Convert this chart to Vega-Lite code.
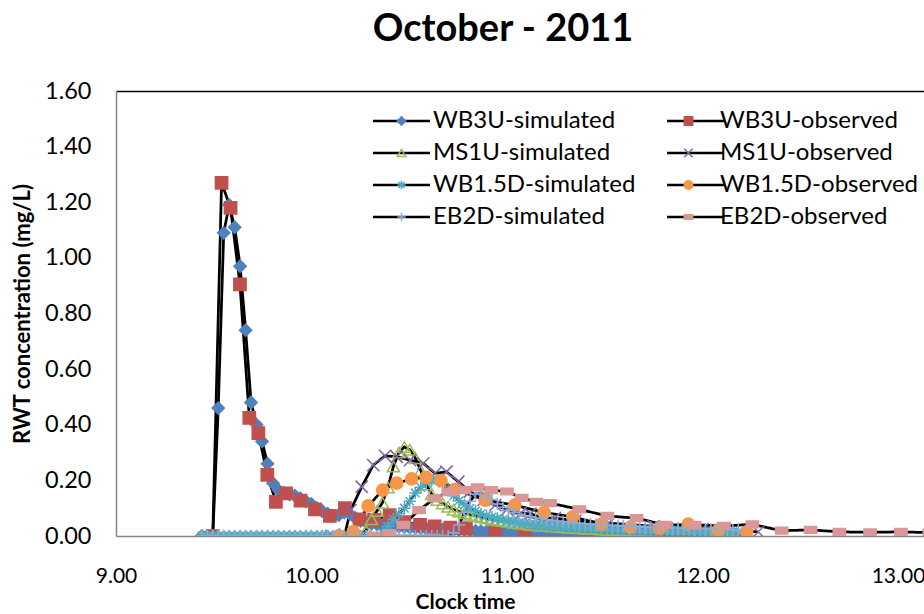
{
"$schema":"https://vega.github.io/schema/vega-lite/v6.json",
"width":808,"height":445,
"autosize":{"type":"none"},
"padding":{"left":116,"top":91,"right":0,"bottom":78},
"background":"white",
"title":{"text":"October - 2011","fontSize":38,"font":"Lato","fontWeight":"bold","color":"black","anchor":"middle","frame":"group","dx":-17,"offset":0,"baseline":"alphabetic"},
"config":{"view":{"stroke":null},"font":"Lato","axis":{"grid":false}},
"data":{"values":[
{"series":"WB3U-simulated","time":9.439,"conc":0},{"series":"WB3U-simulated","time":9.467,"conc":0},{"series":"WB3U-simulated","time":9.495,"conc":0},{"series":"WB3U-simulated","time":9.523,"conc":0.46},{"series":"WB3U-simulated","time":9.551,"conc":1.09},{"series":"WB3U-simulated","time":9.579,"conc":1.19},{"series":"WB3U-simulated","time":9.607,"conc":1.11},{"series":"WB3U-simulated","time":9.635,"conc":0.97},{"series":"WB3U-simulated","time":9.663,"conc":0.74},{"series":"WB3U-simulated","time":9.691,"conc":0.48},{"series":"WB3U-simulated","time":9.719,"conc":0.40},{"series":"WB3U-simulated","time":9.747,"conc":0.34},{"series":"WB3U-simulated","time":9.775,"conc":0.26},{"series":"WB3U-simulated","time":9.803,"conc":0.19},{"series":"WB3U-simulated","time":9.831,"conc":0.165},{"series":"WB3U-simulated","time":9.859,"conc":0.155},{"series":"WB3U-simulated","time":9.887,"conc":0.15},{"series":"WB3U-simulated","time":9.915,"conc":0.145},{"series":"WB3U-simulated","time":9.943,"conc":0.135},{"series":"WB3U-simulated","time":9.971,"conc":0.125},{"series":"WB3U-simulated","time":9.999,"conc":0.115},{"series":"WB3U-simulated","time":10.027,"conc":0.1},{"series":"WB3U-simulated","time":10.055,"conc":0.09},{"series":"WB3U-simulated","time":10.083,"conc":0.08},{"series":"WB3U-simulated","time":10.111,"conc":0.072},{"series":"WB3U-simulated","time":10.139,"conc":0.075},{"series":"WB3U-simulated","time":10.167,"conc":0.085},{"series":"WB3U-simulated","time":10.195,"conc":0.08},{"series":"WB3U-simulated","time":10.223,"conc":0.065},{"series":"WB3U-simulated","time":10.251,"conc":0.055},{"series":"WB3U-simulated","time":10.279,"conc":0.05},{"series":"WB3U-simulated","time":10.307,"conc":0.045},{"series":"WB3U-simulated","time":10.335,"conc":0.042},{"series":"WB3U-simulated","time":10.363,"conc":0.04},{"series":"WB3U-simulated","time":10.391,"conc":0.038},{"series":"WB3U-simulated","time":10.419,"conc":0.036},{"series":"WB3U-simulated","time":10.447,"conc":0.034},{"series":"WB3U-simulated","time":10.475,"conc":0.032},{"series":"WB3U-simulated","time":10.503,"conc":0.03},{"series":"WB3U-simulated","time":10.531,"conc":0.029},{"series":"WB3U-simulated","time":10.559,"conc":0.028},{"series":"WB3U-simulated","time":10.587,"conc":0.027},{"series":"WB3U-simulated","time":10.615,"conc":0.026},{"series":"WB3U-simulated","time":10.643,"conc":0.025},{"series":"WB3U-simulated","time":10.671,"conc":0.024},{"series":"WB3U-simulated","time":10.699,"conc":0.023},{"series":"WB3U-simulated","time":10.727,"conc":0.022},{"series":"WB3U-simulated","time":10.755,"conc":0.021},{"series":"WB3U-simulated","time":10.783,"conc":0.02},{"series":"WB3U-simulated","time":10.811,"conc":0.019},{"series":"WB3U-simulated","time":10.839,"conc":0.018},{"series":"WB3U-simulated","time":10.867,"conc":0.017},{"series":"WB3U-simulated","time":10.895,"conc":0.016},{"series":"WB3U-simulated","time":10.923,"conc":0.016},{"series":"WB3U-simulated","time":10.951,"conc":0.015},{"series":"WB3U-simulated","time":10.979,"conc":0.015},{"series":"WB3U-simulated","time":11.007,"conc":0.014},{"series":"WB3U-simulated","time":11.035,"conc":0.014},{"series":"WB3U-simulated","time":11.063,"conc":0.013},{"series":"WB3U-simulated","time":11.091,"conc":0.013},{"series":"WB3U-simulated","time":11.119,"conc":0.012},{"series":"WB3U-simulated","time":11.147,"conc":0.012},{"series":"WB3U-simulated","time":11.175,"conc":0.011},{"series":"WB3U-simulated","time":11.203,"conc":0.011},{"series":"WB3U-simulated","time":11.231,"conc":0.01},{"series":"WB3U-simulated","time":11.259,"conc":0.01},{"series":"WB3U-simulated","time":11.287,"conc":0.01},{"series":"WB3U-simulated","time":11.315,"conc":0.009},{"series":"WB3U-simulated","time":11.343,"conc":0.009},{"series":"WB3U-simulated","time":11.371,"conc":0.009},{"series":"WB3U-simulated","time":11.399,"conc":0.008},{"series":"WB3U-simulated","time":11.427,"conc":0.008},{"series":"WB3U-simulated","time":11.455,"conc":0.008},{"series":"WB3U-simulated","time":11.483,"conc":0.007},{"series":"WB3U-simulated","time":11.511,"conc":0.007},{"series":"WB3U-simulated","time":11.539,"conc":0.007},{"series":"WB3U-simulated","time":11.567,"conc":0.007},{"series":"WB3U-simulated","time":11.595,"conc":0.006},{"series":"WB3U-simulated","time":11.623,"conc":0.006},{"series":"WB3U-simulated","time":11.651,"conc":0.006},{"series":"WB3U-simulated","time":11.679,"conc":0.006},{"series":"WB3U-simulated","time":11.707,"conc":0.005},{"series":"WB3U-simulated","time":11.735,"conc":0.005},{"series":"WB3U-simulated","time":11.763,"conc":0.005},{"series":"WB3U-simulated","time":11.791,"conc":0.005},{"series":"WB3U-simulated","time":11.819,"conc":0.005},{"series":"WB3U-simulated","time":11.847,"conc":0.004},{"series":"WB3U-simulated","time":11.875,"conc":0.004},{"series":"WB3U-simulated","time":11.903,"conc":0.004},{"series":"WB3U-simulated","time":11.931,"conc":0.004},{"series":"WB3U-simulated","time":11.959,"conc":0.004},{"series":"WB3U-simulated","time":11.987,"conc":0.004},{"series":"WB3U-simulated","time":12.015,"conc":0.003},{"series":"WB3U-simulated","time":12.043,"conc":0.003},{"series":"WB3U-simulated","time":12.071,"conc":0.003},{"series":"WB3U-simulated","time":12.099,"conc":0.003},{"series":"WB3U-simulated","time":12.127,"conc":0.003},{"series":"WB3U-simulated","time":12.155,"conc":0.003},{"series":"WB3U-simulated","time":12.183,"conc":0.003},
{"series":"WB3U-observed","time":9.495,"conc":0},{"series":"WB3U-observed","time":9.54,"conc":1.27},{"series":"WB3U-observed","time":9.586,"conc":1.18},{"series":"WB3U-observed","time":9.634,"conc":0.905},{"series":"WB3U-observed","time":9.682,"conc":0.425},{"series":"WB3U-observed","time":9.728,"conc":0.37},{"series":"WB3U-observed","time":9.774,"conc":0.22},{"series":"WB3U-observed","time":9.818,"conc":0.123},{"series":"WB3U-observed","time":9.87,"conc":0.153},{"series":"WB3U-observed","time":9.944,"conc":0.127},{"series":"WB3U-observed","time":10.018,"conc":0.096},{"series":"WB3U-observed","time":10.094,"conc":0.072},{"series":"WB3U-observed","time":10.171,"conc":0.1},{"series":"WB3U-observed","time":10.246,"conc":0.06},{"series":"WB3U-observed","time":10.32,"conc":0.058},{"series":"WB3U-observed","time":10.4,"conc":0.075},{"series":"WB3U-observed","time":10.475,"conc":0.05},{"series":"WB3U-observed","time":10.555,"conc":0.04},{"series":"WB3U-observed","time":10.63,"conc":0.035},{"series":"WB3U-observed","time":10.71,"conc":0.03},{"series":"WB3U-observed","time":10.79,"conc":0.028},{"series":"WB3U-observed","time":10.94,"conc":0.015},{"series":"WB3U-observed","time":11.09,"conc":0.004},
{"series":"MS1U-simulated","time":9.439,"conc":0},{"series":"MS1U-simulated","time":9.467,"conc":0},{"series":"MS1U-simulated","time":9.495,"conc":0},{"series":"MS1U-simulated","time":9.523,"conc":0},{"series":"MS1U-simulated","time":9.551,"conc":0},{"series":"MS1U-simulated","time":9.579,"conc":0},{"series":"MS1U-simulated","time":9.607,"conc":0},{"series":"MS1U-simulated","time":9.635,"conc":0},{"series":"MS1U-simulated","time":9.663,"conc":0},{"series":"MS1U-simulated","time":9.691,"conc":0},{"series":"MS1U-simulated","time":9.719,"conc":0},{"series":"MS1U-simulated","time":9.747,"conc":0},{"series":"MS1U-simulated","time":9.775,"conc":0},{"series":"MS1U-simulated","time":9.803,"conc":0},{"series":"MS1U-simulated","time":9.831,"conc":0},{"series":"MS1U-simulated","time":9.859,"conc":0},{"series":"MS1U-simulated","time":9.887,"conc":0},{"series":"MS1U-simulated","time":9.915,"conc":0},{"series":"MS1U-simulated","time":9.943,"conc":0},{"series":"MS1U-simulated","time":9.971,"conc":0},{"series":"MS1U-simulated","time":9.999,"conc":0},{"series":"MS1U-simulated","time":10.027,"conc":0},{"series":"MS1U-simulated","time":10.055,"conc":0},{"series":"MS1U-simulated","time":10.083,"conc":0},{"series":"MS1U-simulated","time":10.111,"conc":0},{"series":"MS1U-simulated","time":10.139,"conc":0},{"series":"MS1U-simulated","time":10.167,"conc":0},{"series":"MS1U-simulated","time":10.195,"conc":0},{"series":"MS1U-simulated","time":10.223,"conc":0},{"series":"MS1U-simulated","time":10.251,"conc":0},{"series":"MS1U-simulated","time":10.279,"conc":0.02},{"series":"MS1U-simulated","time":10.307,"conc":0.06},{"series":"MS1U-simulated","time":10.335,"conc":0.09},{"series":"MS1U-simulated","time":10.363,"conc":0.12},{"series":"MS1U-simulated","time":10.391,"conc":0.175},{"series":"MS1U-simulated","time":10.419,"conc":0.25},{"series":"MS1U-simulated","time":10.447,"conc":0.3},{"series":"MS1U-simulated","time":10.475,"conc":0.32},{"series":"MS1U-simulated","time":10.503,"conc":0.31},{"series":"MS1U-simulated","time":10.531,"conc":0.28},{"series":"MS1U-simulated","time":10.559,"conc":0.235},{"series":"MS1U-simulated","time":10.587,"conc":0.185},{"series":"MS1U-simulated","time":10.615,"conc":0.15},{"series":"MS1U-simulated","time":10.643,"conc":0.13},{"series":"MS1U-simulated","time":10.671,"conc":0.117},{"series":"MS1U-simulated","time":10.699,"conc":0.105},{"series":"MS1U-simulated","time":10.727,"conc":0.095},{"series":"MS1U-simulated","time":10.755,"conc":0.088},{"series":"MS1U-simulated","time":10.783,"conc":0.082},{"series":"MS1U-simulated","time":10.811,"conc":0.077},{"series":"MS1U-simulated","time":10.839,"conc":0.072},{"series":"MS1U-simulated","time":10.867,"conc":0.068},{"series":"MS1U-simulated","time":10.895,"conc":0.064},{"series":"MS1U-simulated","time":10.923,"conc":0.06},{"series":"MS1U-simulated","time":10.951,"conc":0.057},{"series":"MS1U-simulated","time":10.979,"conc":0.054},{"series":"MS1U-simulated","time":11.007,"conc":0.051},{"series":"MS1U-simulated","time":11.035,"conc":0.048},{"series":"MS1U-simulated","time":11.063,"conc":0.045},{"series":"MS1U-simulated","time":11.091,"conc":0.043},{"series":"MS1U-simulated","time":11.119,"conc":0.04},{"series":"MS1U-simulated","time":11.147,"conc":0.039},{"series":"MS1U-simulated","time":11.175,"conc":0.037},{"series":"MS1U-simulated","time":11.203,"conc":0.036},{"series":"MS1U-simulated","time":11.231,"conc":0.034},{"series":"MS1U-simulated","time":11.259,"conc":0.033},{"series":"MS1U-simulated","time":11.287,"conc":0.032},{"series":"MS1U-simulated","time":11.315,"conc":0.03},{"series":"MS1U-simulated","time":11.343,"conc":0.029},{"series":"MS1U-simulated","time":11.371,"conc":0.028},{"series":"MS1U-simulated","time":11.399,"conc":0.027},{"series":"MS1U-simulated","time":11.427,"conc":0.026},{"series":"MS1U-simulated","time":11.455,"conc":0.025},{"series":"MS1U-simulated","time":11.483,"conc":0.024},{"series":"MS1U-simulated","time":11.511,"conc":0.023},{"series":"MS1U-simulated","time":11.539,"conc":0.022},{"series":"MS1U-simulated","time":11.567,"conc":0.021},{"series":"MS1U-simulated","time":11.595,"conc":0.021},{"series":"MS1U-simulated","time":11.623,"conc":0.02},{"series":"MS1U-simulated","time":11.651,"conc":0.019},{"series":"MS1U-simulated","time":11.679,"conc":0.018},{"series":"MS1U-simulated","time":11.707,"conc":0.018},{"series":"MS1U-simulated","time":11.735,"conc":0.017},{"series":"MS1U-simulated","time":11.763,"conc":0.017},{"series":"MS1U-simulated","time":11.791,"conc":0.016},{"series":"MS1U-simulated","time":11.819,"conc":0.015},{"series":"MS1U-simulated","time":11.847,"conc":0.015},{"series":"MS1U-simulated","time":11.875,"conc":0.014},{"series":"MS1U-simulated","time":11.903,"conc":0.014},{"series":"MS1U-simulated","time":11.931,"conc":0.013},{"series":"MS1U-simulated","time":11.959,"conc":0.012},{"series":"MS1U-simulated","time":11.987,"conc":0.012},{"series":"MS1U-simulated","time":12.015,"conc":0.011},{"series":"MS1U-simulated","time":12.043,"conc":0.011},{"series":"MS1U-simulated","time":12.071,"conc":0.01},{"series":"MS1U-simulated","time":12.099,"conc":0.01},{"series":"MS1U-simulated","time":12.127,"conc":0.009},{"series":"MS1U-simulated","time":12.155,"conc":0.009},{"series":"MS1U-simulated","time":12.183,"conc":0.008},
{"series":"MS1U-observed","time":10.1,"conc":0},{"series":"MS1U-observed","time":10.17,"conc":0.005},{"series":"MS1U-observed","time":10.2,"conc":0.093},{"series":"MS1U-observed","time":10.257,"conc":0.177},{"series":"MS1U-observed","time":10.316,"conc":0.255},{"series":"MS1U-observed","time":10.376,"conc":0.288},{"series":"MS1U-observed","time":10.436,"conc":0.285},{"series":"MS1U-observed","time":10.504,"conc":0.273},{"series":"MS1U-observed","time":10.572,"conc":0.261},{"series":"MS1U-observed","time":10.632,"conc":0.225},{"series":"MS1U-observed","time":10.69,"conc":0.231},{"series":"MS1U-observed","time":10.751,"conc":0.195},{"series":"MS1U-observed","time":10.81,"conc":0.16},{"series":"MS1U-observed","time":10.88,"conc":0.13},{"series":"MS1U-observed","time":10.94,"conc":0.111},{"series":"MS1U-observed","time":11.0,"conc":0.095},{"series":"MS1U-observed","time":11.07,"conc":0.082},{"series":"MS1U-observed","time":11.12,"conc":0.08},{"series":"MS1U-observed","time":11.186,"conc":0.064},{"series":"MS1U-observed","time":11.245,"conc":0.064},{"series":"MS1U-observed","time":11.35,"conc":0.055},{"series":"MS1U-observed","time":11.52,"conc":0.046},{"series":"MS1U-observed","time":11.75,"conc":0.035},{"series":"MS1U-observed","time":12.0,"conc":0.025},{"series":"MS1U-observed","time":12.285,"conc":0.015},
{"series":"WB1.5D-simulated","time":9.439,"conc":0},{"series":"WB1.5D-simulated","time":9.467,"conc":0},{"series":"WB1.5D-simulated","time":9.495,"conc":0},{"series":"WB1.5D-simulated","time":9.523,"conc":0},{"series":"WB1.5D-simulated","time":9.551,"conc":0},{"series":"WB1.5D-simulated","time":9.579,"conc":0},{"series":"WB1.5D-simulated","time":9.607,"conc":0},{"series":"WB1.5D-simulated","time":9.635,"conc":0},{"series":"WB1.5D-simulated","time":9.663,"conc":0},{"series":"WB1.5D-simulated","time":9.691,"conc":0},{"series":"WB1.5D-simulated","time":9.719,"conc":0},{"series":"WB1.5D-simulated","time":9.747,"conc":0},{"series":"WB1.5D-simulated","time":9.775,"conc":0},{"series":"WB1.5D-simulated","time":9.803,"conc":0},{"series":"WB1.5D-simulated","time":9.831,"conc":0},{"series":"WB1.5D-simulated","time":9.859,"conc":0},{"series":"WB1.5D-simulated","time":9.887,"conc":0},{"series":"WB1.5D-simulated","time":9.915,"conc":0},{"series":"WB1.5D-simulated","time":9.943,"conc":0},{"series":"WB1.5D-simulated","time":9.971,"conc":0},{"series":"WB1.5D-simulated","time":9.999,"conc":0},{"series":"WB1.5D-simulated","time":10.027,"conc":0},{"series":"WB1.5D-simulated","time":10.055,"conc":0},{"series":"WB1.5D-simulated","time":10.083,"conc":0},{"series":"WB1.5D-simulated","time":10.111,"conc":0},{"series":"WB1.5D-simulated","time":10.139,"conc":0},{"series":"WB1.5D-simulated","time":10.167,"conc":0},{"series":"WB1.5D-simulated","time":10.195,"conc":0},{"series":"WB1.5D-simulated","time":10.223,"conc":0},{"series":"WB1.5D-simulated","time":10.251,"conc":0},{"series":"WB1.5D-simulated","time":10.279,"conc":0},{"series":"WB1.5D-simulated","time":10.307,"conc":0},{"series":"WB1.5D-simulated","time":10.335,"conc":0},{"series":"WB1.5D-simulated","time":10.363,"conc":0.01},{"series":"WB1.5D-simulated","time":10.391,"conc":0.035},{"series":"WB1.5D-simulated","time":10.419,"conc":0.06},{"series":"WB1.5D-simulated","time":10.447,"conc":0.08},{"series":"WB1.5D-simulated","time":10.475,"conc":0.1},{"series":"WB1.5D-simulated","time":10.503,"conc":0.125},{"series":"WB1.5D-simulated","time":10.531,"conc":0.155},{"series":"WB1.5D-simulated","time":10.559,"conc":0.175},{"series":"WB1.5D-simulated","time":10.587,"conc":0.19},{"series":"WB1.5D-simulated","time":10.615,"conc":0.2},{"series":"WB1.5D-simulated","time":10.643,"conc":0.202},{"series":"WB1.5D-simulated","time":10.671,"conc":0.19},{"series":"WB1.5D-simulated","time":10.699,"conc":0.165},{"series":"WB1.5D-simulated","time":10.727,"conc":0.145},{"series":"WB1.5D-simulated","time":10.755,"conc":0.127},{"series":"WB1.5D-simulated","time":10.783,"conc":0.112},{"series":"WB1.5D-simulated","time":10.811,"conc":0.1},{"series":"WB1.5D-simulated","time":10.839,"conc":0.09},{"series":"WB1.5D-simulated","time":10.867,"conc":0.08},{"series":"WB1.5D-simulated","time":10.895,"conc":0.073},{"series":"WB1.5D-simulated","time":10.923,"conc":0.068},{"series":"WB1.5D-simulated","time":10.951,"conc":0.063},{"series":"WB1.5D-simulated","time":10.979,"conc":0.058},{"series":"WB1.5D-simulated","time":11.007,"conc":0.054},{"series":"WB1.5D-simulated","time":11.035,"conc":0.051},{"series":"WB1.5D-simulated","time":11.063,"conc":0.048},{"series":"WB1.5D-simulated","time":11.091,"conc":0.046},{"series":"WB1.5D-simulated","time":11.119,"conc":0.044},{"series":"WB1.5D-simulated","time":11.147,"conc":0.042},{"series":"WB1.5D-simulated","time":11.175,"conc":0.04},{"series":"WB1.5D-simulated","time":11.203,"conc":0.039},{"series":"WB1.5D-simulated","time":11.231,"conc":0.037},{"series":"WB1.5D-simulated","time":11.259,"conc":0.036},{"series":"WB1.5D-simulated","time":11.287,"conc":0.035},{"series":"WB1.5D-simulated","time":11.315,"conc":0.034},{"series":"WB1.5D-simulated","time":11.343,"conc":0.033},{"series":"WB1.5D-simulated","time":11.371,"conc":0.032},{"series":"WB1.5D-simulated","time":11.399,"conc":0.031},{"series":"WB1.5D-simulated","time":11.427,"conc":0.03},{"series":"WB1.5D-simulated","time":11.455,"conc":0.029},{"series":"WB1.5D-simulated","time":11.483,"conc":0.028},{"series":"WB1.5D-simulated","time":11.511,"conc":0.027},{"series":"WB1.5D-simulated","time":11.539,"conc":0.027},{"series":"WB1.5D-simulated","time":11.567,"conc":0.026},{"series":"WB1.5D-simulated","time":11.595,"conc":0.025},{"series":"WB1.5D-simulated","time":11.623,"conc":0.025},{"series":"WB1.5D-simulated","time":11.651,"conc":0.024},{"series":"WB1.5D-simulated","time":11.679,"conc":0.023},{"series":"WB1.5D-simulated","time":11.707,"conc":0.023},{"series":"WB1.5D-simulated","time":11.735,"conc":0.022},{"series":"WB1.5D-simulated","time":11.763,"conc":0.022},{"series":"WB1.5D-simulated","time":11.791,"conc":0.021},{"series":"WB1.5D-simulated","time":11.819,"conc":0.021},{"series":"WB1.5D-simulated","time":11.847,"conc":0.02},{"series":"WB1.5D-simulated","time":11.875,"conc":0.02},{"series":"WB1.5D-simulated","time":11.903,"conc":0.019},{"series":"WB1.5D-simulated","time":11.931,"conc":0.019},{"series":"WB1.5D-simulated","time":11.959,"conc":0.018},{"series":"WB1.5D-simulated","time":11.987,"conc":0.018},{"series":"WB1.5D-simulated","time":12.015,"conc":0.017},{"series":"WB1.5D-simulated","time":12.043,"conc":0.017},{"series":"WB1.5D-simulated","time":12.071,"conc":0.016},{"series":"WB1.5D-simulated","time":12.099,"conc":0.016},{"series":"WB1.5D-simulated","time":12.127,"conc":0.016},{"series":"WB1.5D-simulated","time":12.155,"conc":0.015},{"series":"WB1.5D-simulated","time":12.183,"conc":0.015},
{"series":"WB1.5D-observed","time":10.14,"conc":0},{"series":"WB1.5D-observed","time":10.214,"conc":0.016},{"series":"WB1.5D-observed","time":10.29,"conc":0.108},{"series":"WB1.5D-observed","time":10.364,"conc":0.165},{"series":"WB1.5D-observed","time":10.436,"conc":0.19},{"series":"WB1.5D-observed","time":10.512,"conc":0.205},{"series":"WB1.5D-observed","time":10.586,"conc":0.211},{"series":"WB1.5D-observed","time":10.662,"conc":0.199},{"series":"WB1.5D-observed","time":10.734,"conc":0.168},{"series":"WB1.5D-observed","time":10.888,"conc":0.129},{"series":"WB1.5D-observed","time":11.04,"conc":0.111},{"series":"WB1.5D-observed","time":11.19,"conc":0.084},{"series":"WB1.5D-observed","time":11.336,"conc":0.069},{"series":"WB1.5D-observed","time":11.484,"conc":0.043},{"series":"WB1.5D-observed","time":11.632,"conc":0.031},{"series":"WB1.5D-observed","time":11.78,"conc":0.028},{"series":"WB1.5D-observed","time":11.927,"conc":0.043},{"series":"WB1.5D-observed","time":12.08,"conc":0.02},{"series":"WB1.5D-observed","time":12.226,"conc":0.015},
{"series":"EB2D-simulated","time":9.439,"conc":0},{"series":"EB2D-simulated","time":9.467,"conc":0},{"series":"EB2D-simulated","time":9.495,"conc":0},{"series":"EB2D-simulated","time":9.523,"conc":0},{"series":"EB2D-simulated","time":9.551,"conc":0},{"series":"EB2D-simulated","time":9.579,"conc":0},{"series":"EB2D-simulated","time":9.607,"conc":0},{"series":"EB2D-simulated","time":9.635,"conc":0},{"series":"EB2D-simulated","time":9.663,"conc":0},{"series":"EB2D-simulated","time":9.691,"conc":0},{"series":"EB2D-simulated","time":9.719,"conc":0},{"series":"EB2D-simulated","time":9.747,"conc":0},{"series":"EB2D-simulated","time":9.775,"conc":0},{"series":"EB2D-simulated","time":9.803,"conc":0},{"series":"EB2D-simulated","time":9.831,"conc":0},{"series":"EB2D-simulated","time":9.859,"conc":0},{"series":"EB2D-simulated","time":9.887,"conc":0},{"series":"EB2D-simulated","time":9.915,"conc":0},{"series":"EB2D-simulated","time":9.943,"conc":0},{"series":"EB2D-simulated","time":9.971,"conc":0},{"series":"EB2D-simulated","time":9.999,"conc":0},{"series":"EB2D-simulated","time":10.027,"conc":0},{"series":"EB2D-simulated","time":10.055,"conc":0},{"series":"EB2D-simulated","time":10.083,"conc":0},{"series":"EB2D-simulated","time":10.111,"conc":0},{"series":"EB2D-simulated","time":10.139,"conc":0},{"series":"EB2D-simulated","time":10.167,"conc":0},{"series":"EB2D-simulated","time":10.195,"conc":0},{"series":"EB2D-simulated","time":10.223,"conc":0},{"series":"EB2D-simulated","time":10.251,"conc":0},{"series":"EB2D-simulated","time":10.279,"conc":0},{"series":"EB2D-simulated","time":10.307,"conc":0},{"series":"EB2D-simulated","time":10.335,"conc":0},{"series":"EB2D-simulated","time":10.363,"conc":0},{"series":"EB2D-simulated","time":10.391,"conc":0},{"series":"EB2D-simulated","time":10.419,"conc":0},{"series":"EB2D-simulated","time":10.447,"conc":0},{"series":"EB2D-simulated","time":10.475,"conc":0},{"series":"EB2D-simulated","time":10.503,"conc":0},{"series":"EB2D-simulated","time":10.531,"conc":0},{"series":"EB2D-simulated","time":10.559,"conc":0},{"series":"EB2D-simulated","time":10.587,"conc":0},{"series":"EB2D-simulated","time":10.615,"conc":0},{"series":"EB2D-simulated","time":10.643,"conc":0},{"series":"EB2D-simulated","time":10.671,"conc":0},{"series":"EB2D-simulated","time":10.699,"conc":0},{"series":"EB2D-simulated","time":10.727,"conc":0.012},{"series":"EB2D-simulated","time":10.755,"conc":0.04},{"series":"EB2D-simulated","time":10.783,"conc":0.085},{"series":"EB2D-simulated","time":10.811,"conc":0.125},{"series":"EB2D-simulated","time":10.839,"conc":0.15},{"series":"EB2D-simulated","time":10.867,"conc":0.155},{"series":"EB2D-simulated","time":10.895,"conc":0.145},{"series":"EB2D-simulated","time":10.923,"conc":0.13},{"series":"EB2D-simulated","time":10.951,"conc":0.115},{"series":"EB2D-simulated","time":10.979,"conc":0.103},{"series":"EB2D-simulated","time":11.007,"conc":0.093},{"series":"EB2D-simulated","time":11.035,"conc":0.085},{"series":"EB2D-simulated","time":11.063,"conc":0.078},{"series":"EB2D-simulated","time":11.091,"conc":0.073},{"series":"EB2D-simulated","time":11.119,"conc":0.069},{"series":"EB2D-simulated","time":11.147,"conc":0.065},{"series":"EB2D-simulated","time":11.175,"conc":0.062},{"series":"EB2D-simulated","time":11.203,"conc":0.059},{"series":"EB2D-simulated","time":11.231,"conc":0.056},{"series":"EB2D-simulated","time":11.259,"conc":0.054},{"series":"EB2D-simulated","time":11.287,"conc":0.052},{"series":"EB2D-simulated","time":11.315,"conc":0.05},{"series":"EB2D-simulated","time":11.343,"conc":0.048},{"series":"EB2D-simulated","time":11.371,"conc":0.046},{"series":"EB2D-simulated","time":11.399,"conc":0.044},{"series":"EB2D-simulated","time":11.427,"conc":0.043},{"series":"EB2D-simulated","time":11.455,"conc":0.041},{"series":"EB2D-simulated","time":11.483,"conc":0.04},{"series":"EB2D-simulated","time":11.511,"conc":0.039},{"series":"EB2D-simulated","time":11.539,"conc":0.038},{"series":"EB2D-simulated","time":11.567,"conc":0.037},{"series":"EB2D-simulated","time":11.595,"conc":0.036},{"series":"EB2D-simulated","time":11.623,"conc":0.035},{"series":"EB2D-simulated","time":11.651,"conc":0.034},{"series":"EB2D-simulated","time":11.679,"conc":0.033},{"series":"EB2D-simulated","time":11.707,"conc":0.032},{"series":"EB2D-simulated","time":11.735,"conc":0.031},{"series":"EB2D-simulated","time":11.763,"conc":0.031},{"series":"EB2D-simulated","time":11.791,"conc":0.03},{"series":"EB2D-simulated","time":11.819,"conc":0.029},{"series":"EB2D-simulated","time":11.847,"conc":0.029},{"series":"EB2D-simulated","time":11.875,"conc":0.028},{"series":"EB2D-simulated","time":11.903,"conc":0.027},{"series":"EB2D-simulated","time":11.931,"conc":0.027},{"series":"EB2D-simulated","time":11.959,"conc":0.026},{"series":"EB2D-simulated","time":11.987,"conc":0.025},{"series":"EB2D-simulated","time":12.015,"conc":0.025},{"series":"EB2D-simulated","time":12.043,"conc":0.024},{"series":"EB2D-simulated","time":12.071,"conc":0.024},{"series":"EB2D-simulated","time":12.099,"conc":0.023},{"series":"EB2D-simulated","time":12.127,"conc":0.023},{"series":"EB2D-simulated","time":12.155,"conc":0.022},{"series":"EB2D-simulated","time":12.183,"conc":0.022},
{"series":"EB2D-observed","time":10.32,"conc":0},{"series":"EB2D-observed","time":10.4,"conc":0.01},{"series":"EB2D-observed","time":10.47,"conc":0.04},{"series":"EB2D-observed","time":10.55,"conc":0.093},{"series":"EB2D-observed","time":10.63,"conc":0.135},{"series":"EB2D-observed","time":10.7,"conc":0.158},{"series":"EB2D-observed","time":10.78,"conc":0.165},{"series":"EB2D-observed","time":10.85,"conc":0.175},{"series":"EB2D-observed","time":10.92,"conc":0.165},{"series":"EB2D-observed","time":11.0,"conc":0.16},{"series":"EB2D-observed","time":11.075,"conc":0.137},{"series":"EB2D-observed","time":11.15,"conc":0.123},{"series":"EB2D-observed","time":11.22,"conc":0.118},{"series":"EB2D-observed","time":11.37,"conc":0.096},{"series":"EB2D-observed","time":11.513,"conc":0.072},{"series":"EB2D-observed","time":11.663,"conc":0.064},{"series":"EB2D-observed","time":11.808,"conc":0.04},{"series":"EB2D-observed","time":11.96,"conc":0.04},{"series":"EB2D-observed","time":12.11,"conc":0.036},{"series":"EB2D-observed","time":12.255,"conc":0.042},{"series":"EB2D-observed","time":12.405,"conc":0.019},{"series":"EB2D-observed","time":12.553,"conc":0.022},{"series":"EB2D-observed","time":12.7,"conc":0.015},{"series":"EB2D-observed","time":12.857,"conc":0.013},{"series":"EB2D-observed","time":13.015,"conc":0.015},{"series":"EB2D-observed","time":13.16,"conc":0.012}
]},
"layer":[
{"mark":{"type":"line","color":"black","strokeWidth":2.75,"clip":true},
 "encoding":{
  "x":{"field":"time","type":"quantitative","scale":{"domain":[9,13.133],"nice":false,"zero":false},
       "axis":{"orient":"bottom","values":[9,10,11,12,13],"format":".2f","labelFontSize":21,"labelColor":"black","labelPadding":29,"ticks":false,"tickSize":0,"domainColor":"#868686","domainWidth":1.5,"labelFlush":false,"labelOverlap":false,"title":"Clock time","titleFontSize":21,"titleFontWeight":"bold","titleColor":"black","titlePadding":5.5,"titleX":349}},
  "y":{"field":"conc","type":"quantitative","scale":{"domain":[0,1.6],"nice":false},
       "axis":{"values":[0,0.2,0.4,0.6,0.8,1.0,1.2,1.4,1.6],"format":".2f","labelFontSize":23.5,"labelColor":"black","labelPadding":25,"ticks":false,"tickSize":0,"domainColor":"#868686","domainWidth":1.5,"labelFlush":false,"labelOverlap":false,"title":"RWT concentration (mg/L)","titleFontSize":22,"titleFontWeight":"bold","titleColor":"black","titleX":-94,"titleBaseline":"middle"}},
  "strokeDash":{"field":"series","type":"nominal",
       "scale":{"domain":["MS1U-simulated","WB3U-simulated","WB1.5D-simulated","EB2D-simulated","WB3U-observed","MS1U-observed","WB1.5D-observed","EB2D-observed"],"range":[[1,0],[1,0],[1,0],[1,0],[1,0],[1,0],[1,0],[1,0]]},
       "legend":{"orient":"none","legendX":273.5,"legendY":18,"columns":2,"title":null,"symbolType":"M-11.4,0L11.4,0","symbolSize":25,"symbolStrokeWidth":2.5,"symbolStrokeColor":"black","symbolFillColor":"transparent","labelFontSize":24,"labelExpr":"''","labelOffset":19.5,"labelLimit":400,"rowPadding":8,"columnPadding":226}}
 }},
{"mark":{"type":"point","size":150,"strokeWidth":1.5,"opacity":1,"clip":true},
 "encoding":{
  "x":{"field":"time","type":"quantitative","axis":{"orient":"top","labels":false,"ticks":false,"title":null,"domainColor":"black","domainWidth":1.5}},
  "y":{"field":"conc","type":"quantitative"},
  "shape":{"field":"series","type":"nominal",
       "scale":{"domain":["WB3U-simulated","MS1U-simulated","WB1.5D-simulated","EB2D-simulated","WB3U-observed","MS1U-observed","WB1.5D-observed","EB2D-observed"],
                "range":["diamond","triangle-up","M-1,0L1,0M0,-1L0,1M-0.7,-0.7L0.7,0.7M-0.7,0.7L0.7,-0.7","M-1,0L1,0M0,-1L0,1","square","M-1,-1L1,1M-1,1L1,-1","circle","M-1,-0.55L1,-0.55L1,0.55L-1,0.55Z"]},
       "legend":{"orient":"none","legendX":273.5,"legendY":18,"columns":2,"title":null,"symbolSize":70,"symbolStrokeWidth":1.5,"labelFontSize":24,"labelColor":"black","labelOffset":19.5,"labelLimit":400,"rowPadding":8,"columnPadding":41}},
  "fill":{"field":"series","type":"nominal",
       "scale":{"domain":["WB3U-simulated","MS1U-simulated","WB1.5D-simulated","EB2D-simulated","WB3U-observed","MS1U-observed","WB1.5D-observed","EB2D-observed"],
                "range":["#4F81BD","transparent","transparent","transparent","#C0504D","transparent","#F79646","#D99795"]},
       "legend":{"orient":"none","legendX":273.5,"legendY":18,"columns":2,"title":null,"symbolSize":70,"symbolStrokeWidth":1.5,"labelFontSize":24,"labelColor":"black","labelOffset":19.5,"labelLimit":400,"rowPadding":8,"columnPadding":41}},
  "stroke":{"field":"series","type":"nominal",
       "scale":{"domain":["WB3U-simulated","MS1U-simulated","WB1.5D-simulated","EB2D-simulated","WB3U-observed","MS1U-observed","WB1.5D-observed","EB2D-observed"],
                "range":["#4F81BD","#9BBB59","#4BACC6","#8FA9D8","#C0504D","#8064A2","#F79646","#D99795"]},
       "legend":{"orient":"none","legendX":273.5,"legendY":18,"columns":2,"title":null,"symbolSize":70,"symbolStrokeWidth":1.5,"labelFontSize":24,"labelColor":"black","labelOffset":19.5,"labelLimit":400,"rowPadding":8,"columnPadding":41}}
 }}
]
}
